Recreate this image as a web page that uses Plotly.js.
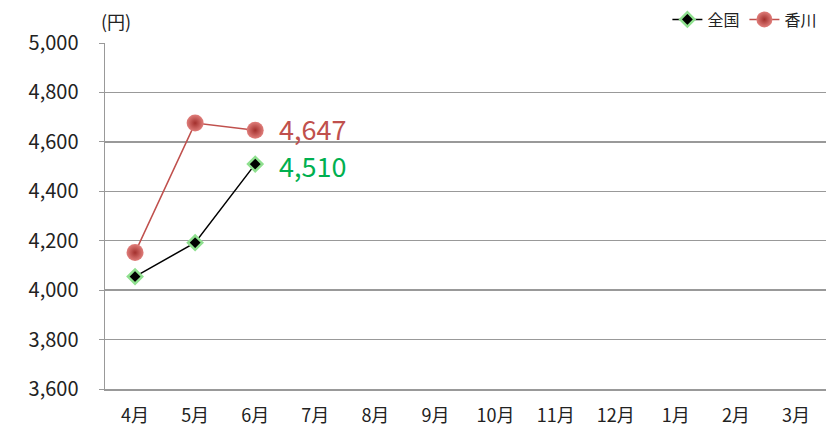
<!DOCTYPE html>
<html><head><meta charset="utf-8">
<script src="https://cdn.plot.ly/plotly-3.0.1.min.js"></script>
<style>html,body{margin:0;padding:0;background:#fff}</style>
</head><body>
<div id="chart" style="width:830px;height:433px"></div>
<script>
const months = ["4月","5月","6月","7月","8月","9月","10月","11月","12月","1月","2月","3月"];
const national = [4055, 4192, 4510];
const kagawa = [4152, 4676, 4647];
const nationalName = "全国";
const kagawaName = "香川";
const yTicks = [3600, 3800, 4000, 4200, 4400, 4600, 4800, 5000];

const font = "'Noto Sans CJK JP', 'Noto Sans', sans-serif";
const traces = [
  {x: months.slice(0, national.length), y: national, name: nationalName, type: 'scatter', mode: 'lines+markers',
   line: {color: '#000000', width: 1.5},
   marker: {symbol: 'diamond', size: 11, color: '#000000', line: {color: '#8fe08f', width: 2.5}}},
  {x: months.slice(0, kagawa.length), y: kagawa, name: kagawaName, type: 'scatter', mode: 'lines+markers',
   line: {color: '#c0504d', width: 1.5},
   marker: {symbol: 'circle', size: 17, color: '#e07e7b', gradient: {type: 'radial', color: '#a3302d'}, line: {width: 0}}}
];
const layout = {
  width: 830, height: 433,
  margin: {l: 105, r: 4, t: 43, b: 44, autoexpand: false},
  paper_bgcolor: '#ffffff', plot_bgcolor: '#ffffff',
  font: {family: font, color: '#222', size: 18},
  showlegend: true,
  legend: {orientation: 'h', x: 0.995, xanchor: 'right', yref: 'container', y: 0.955, yanchor: 'middle', font: {size: 16, family: font}, itemwidth: 30, traceorder: 'normal', bgcolor: 'rgba(0,0,0,0)'},
  xaxis: {type: 'category', categoryarray: months, categoryorder: 'array', range: [-0.5, 11.5],
    showline: true, linecolor: '#999999', linewidth: 1.5, ticks: '', showgrid: false,
    tickfont: {size: 18, family: font}, ticklabelstandoff: 10, fixedrange: true},
  yaxis: {range: [3600, 5000], tickvals: yTicks, ticktext: yTicks.map(v => v.toLocaleString('en-US')),
    showline: true, linecolor: '#999999', linewidth: 1.5, ticks: 'outside', ticklen: 5, tickcolor: '#999999',
    gridcolor: '#999999', gridwidth: 1.5, zeroline: false, tickfont: {size: 20, family: font}, ticklabelstandoff: 16},
  annotations: [
    {xref: 'paper', yref: 'paper', x: -0.008, y: 1.02, xanchor: 'left', yanchor: 'bottom', text: '(円)', showarrow: false, font: {size: 18, family: font, color: '#222'}},
    {xref: 'x', yref: 'y', x: months[kagawa.length - 1], y: kagawa[kagawa.length - 1], xshift: 22, yshift: 2, xanchor: 'left', yanchor: 'middle', text: kagawa[kagawa.length - 1].toLocaleString('en-US'), showarrow: false, font: {size: 27, family: font, color: '#c0504d'}},
    {xref: 'x', yref: 'y', x: months[national.length - 1], y: national[national.length - 1], xanchor: 'left', yanchor: 'middle', xshift: 22, yshift: -1, text: national[national.length - 1].toLocaleString('en-US'), showarrow: false, font: {size: 27, family: font, color: '#00b050'}}
  ]
};
Plotly.newPlot('chart', traces, layout, {displayModeBar: false, staticPlot: true});
</script>
</body></html>
